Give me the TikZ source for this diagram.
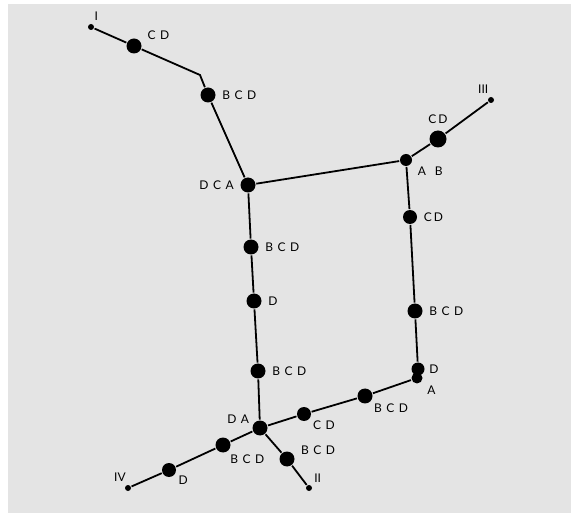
\documentclass[tikz,border=0pt]{standalone}
\usepackage{fontspec}
\setmainfont{Lato}
\definecolor{paper}{HTML}{E4E4E4}
\newcommand{\lsp}{\hspace{4.5pt}}
\begin{document}
\begin{tikzpicture}[x=1pt, y=-1pt, line width=1.8pt,
        bigdot/.style={circle, fill, inner sep=0pt, minimum size=15pt},
        middot/.style={circle, fill, inner sep=0pt, minimum size=12pt},
        enddot/.style={circle, fill, inner sep=0pt, minimum size=6pt},
        every label/.style={font=\fontsize{12}{14}\selectfont, inner sep=1pt}, label distance=4pt]
        \useasboundingbox (0,0) rectangle (571,513);
        \fill[paper] (8,4) rectangle (571,513);
        % upper branch
        \node[enddot, label={[label distance=1pt]70:{I}}] (i) at (91,27) {};
        \node[bigdot, label=20:{C\lsp D}] (cd1) at (134,46) {};
        \coordinate (bend) at (200,75);
        \node[bigdot, label=right:{B\lsp C\lsp D}] (bcd1) at (208,95) {};
        \node[bigdot, label=left:{D\lsp C\lsp A}] (dca) at (248,185) {};
        \node[middot, label=-25:{A\lsp\lsp B}] (ab) at (406,160) {};
        \node[bigdot, minimum size=17pt, label=above:{C\hspace{2pt}D}] (cd2) at (438,139) {};
        \node[enddot, label={[label distance=1pt]100:{III}}] (iii) at (491,100) {};
        % right side
        \node[middot, minimum size=14pt, label=right:{C\hspace{2pt}D}] (cd3) at (410,217) {};
        \node[bigdot, label=right:{B\lsp C\lsp D}] (bcd2) at (415,311) {};
        \node[middot, minimum size=13pt, label={[label distance=2pt]right:{D}}] (d1) at (418,369) {};
        \node[middot, minimum size=11pt, label=-35:{A}] (a1) at (417,378) {};
        % left side
        \node[bigdot, label=right:{B\lsp C\lsp D}] (bcd3) at (251,247) {};
        \node[bigdot, label=right:{D}] (d2) at (254,301) {};
        \node[bigdot, label=right:{B\lsp C\lsp D}] (bcd4) at (258,371) {};
        \node[bigdot, label={[label distance=1pt]165:{D\lsp A}}] (da) at (260,428) {};
        % lower branches
        \node[middot, minimum size=14pt, label={[label distance=1pt]-35:{C\lsp D}}] (cd4) at (304,414) {};
        \node[bigdot, label={[label distance=1pt]-40:{B\lsp C\lsp D}}] (bcd5) at (365,396) {};
        \node[bigdot, label=10:{B\lsp C\lsp D}] (bcd6) at (287,459) {};
        \node[enddot, label={[label distance=1pt]45:{II}}] (ii) at (309,488) {};
        \node[bigdot, label={[label distance=1pt]-55:{B\lsp C\lsp D}}] (bcd7) at (223,445) {};
        \node[middot, minimum size=14pt, label={[label distance=1pt]-30:{D}}] (d3) at (169,470) {};
        \node[enddot, label={[label distance=1pt]95:{IV}}] (iv) at (128,488) {};
        \draw (i) -- (cd1) -- (bend) -- (bcd1) -- (dca) -- (ab) -- (cd2) -- (iii);
        \draw (ab) -- (cd3) -- (bcd2) -- (d1);
        \draw (dca) -- (bcd3) -- (d2) -- (bcd4) -- (da);
        \draw (a1) -- (bcd5) -- (cd4) -- (da);
        \draw (da) -- (bcd6) -- (ii);
        \draw (da) -- (bcd7) -- (d3) -- (iv);
    \end{tikzpicture}
\end{document}
